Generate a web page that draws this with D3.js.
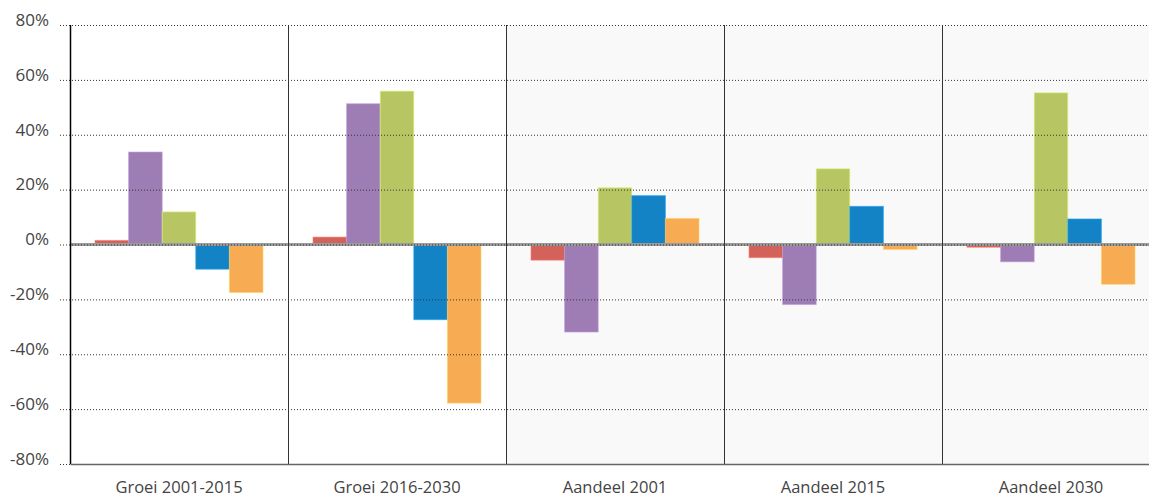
<!DOCTYPE html>
<html>
<head>
<meta charset="utf-8">
<script src="https://d3js.org/d3.v7.min.js"></script>
<style>
  body { margin: 0; background: #fff; }
  text { font-family: "Open Sans", "Noto Sans", sans-serif; fill: #444; }
</style>
</head>
<body>
<div id="chart"></div>
<script>
// categories on the x axis
const categories = ["Groei 2001-2015", "Groei 2016-2030", "Aandeel 2001", "Aandeel 2015", "Aandeel 2030"];
// five unnamed series, values in %
const seriesNames = ["s1", "s2", "s3", "s4", "s5"];
const s1 = [1.5, 2.7, -5.7, -4.8, -1.0];
const s2 = [33.7, 51.3, -31.9, -21.9, -6.3];
const s3 = [11.9, 55.9, 20.7, 27.6, 55.3];
const s4 = [-9.0, -27.4, 17.8, 13.9, 9.3];
const s5 = [-17.5, -57.8, 9.5, -1.8, -14.5];
const yTicks = [-80, -60, -40, -20, 0, 20, 40, 60, 80];

const colors = ["#d2625a", "#9d7db4", "#b7c663", "#1483c6", "#f7ab52"];
const shaded = ["Aandeel 2001", "Aandeel 2015", "Aandeel 2030"];

const w = 1149, h = 497;
const plotLeft = 70, plotTop = 25, plotBottom = 464;

const seriesData = [s1, s2, s3, s4, s5];

const svg = d3.select("#chart").append("svg")
    .attr("width", w)
    .attr("height", h);

const x0 = d3.scaleBand()
    .domain(categories)
    .range([plotLeft, 1160]);

const x1 = d3.scaleBand()
    .domain(seriesNames)
    .range([25, x0.bandwidth() - 25]);

const y = d3.scaleLinear()
    .domain([-80, 80])
    .range([plotBottom, plotTop]);

// grey background for the "Aandeel" panels
svg.selectAll("rect.bg")
   .data(shaded)
   .enter()
   .append("rect")
   .attr("class", "bg")
   .attr("x", d => x0(d))
   .attr("y", plotTop)
   .attr("width", x0.bandwidth())
   .attr("height", plotBottom - plotTop)
   .attr("fill", "#f9f9f9");

// bars
const groups = svg.selectAll("g.cat")
    .data(categories)
    .enter()
    .append("g")
    .attr("class", "cat")
    .attr("transform", d => "translate(" + x0(d) + ",0)");

groups.selectAll("rect")
    .data((d, i) => seriesData.map((s, j) => ({ key: seriesNames[j], v: s[i], c: colors[j] })))
    .enter()
    .append("rect")
    .attr("x", d => x1(d.key))
    .attr("y", d => y(Math.max(0, d.v)))
    .attr("width", x1.bandwidth())
    .attr("height", d => Math.abs(y(d.v) - y(0)))
    .attr("fill", d => d.c)
    .attr("stroke", d => d3.color(d.c).brighter(0.6))
    .attr("stroke-opacity", 0.6)
    .attr("stroke-width", 1);

// zero line
svg.append("line")
   .attr("x1", plotLeft).attr("x2", w)
   .attr("y1", y(0)).attr("y2", y(0))
   .attr("stroke", "#9a9a9a")
   .attr("stroke-width", 3);

// y axis with dotted gridlines
const yAxis = d3.axisLeft(y)
    .tickValues(yTicks)
    .tickSize(-(w - 60))
    .tickPadding(11)
    .tickFormat(d => d + "%");

svg.append("g")
   .attr("transform", "translate(60,0)")
   .call(yAxis)
   .call(g => g.select(".domain").remove())
   .call(g => g.selectAll(".tick line")
       .attr("stroke", "#333")
       .attr("stroke-width", 1)
       .attr("stroke-dasharray", "1,2"))
   .call(g => g.selectAll(".tick text")
       .style("font-size", "17px")
       .attr("dy", "0.02em")
       .attr("fill", "#444"));

// panel separators
svg.selectAll("line.sep")
   .data(categories)
   .enter()
   .append("line")
   .attr("class", "sep")
   .attr("x1", d => Math.round(x0(d)) + 0.5)
   .attr("x2", d => Math.round(x0(d)) + 0.5)
   .attr("y1", plotTop)
   .attr("y2", plotBottom)
   .attr("stroke", (d, i) => i == 0 ? "#000" : "#333")
   .attr("stroke-width", (d, i) => i == 0 ? 1.5 : 1);

// x axis
const xAxis = d3.axisBottom(x0).tickSize(0).tickPadding(17);

svg.append("g")
   .attr("transform", "translate(0," + plotBottom + ")")
   .call(xAxis)
   .call(g => g.select(".domain").attr("stroke", "#666").attr("stroke-width", 1.5))
   .call(g => g.selectAll(".tick text")
       .style("font-size", "16.5px")
       .attr("fill", "#444"));
</script>
</body>
</html>
